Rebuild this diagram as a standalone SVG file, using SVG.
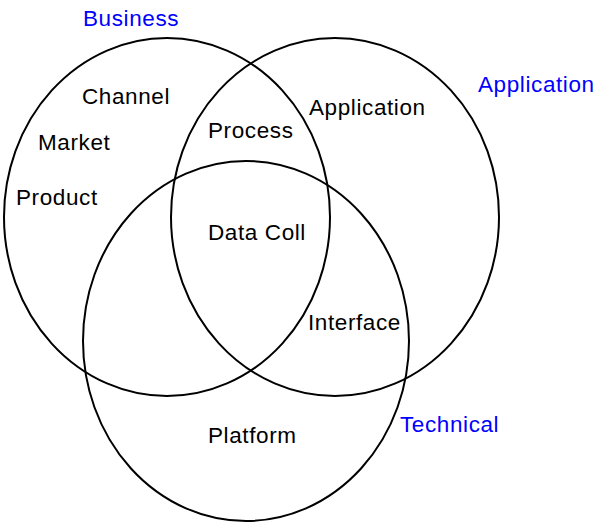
<svg xmlns="http://www.w3.org/2000/svg" width="597" height="525" viewBox="0 0 597 525">
<style>
.c{fill:none;stroke:#000;stroke-width:2}
text{font-family:"Liberation Sans",Arial,sans-serif;font-size:22.5px;letter-spacing:0.6px;fill:#000}
.t{fill:#0000ff}
</style>
<rect width="597" height="525" fill="#fff"/>
<g id="business"><ellipse class="c" cx="167" cy="217" rx="163" ry="179"/><text class="t" x="83" y="26">Business</text></g>
<g id="application"><ellipse class="c" cx="335" cy="217" rx="164" ry="179"/><text class="t" x="478" y="92">Application</text></g>
<g id="technical"><ellipse class="c" cx="246" cy="341" rx="163" ry="180"/><text class="t" x="400" y="432">Technical</text></g>
<g id="labels">
<text x="82" y="104">Channel</text>
<text x="38" y="150">Market</text>
<text x="16" y="205">Product</text>
<text x="309" y="115">Application</text>
<text x="208" y="138">Process</text>
<text x="208" y="240">Data Coll</text>
<text x="308" y="330">Interface</text>
<text x="208" y="443">Platform</text>
</g>
</svg>
